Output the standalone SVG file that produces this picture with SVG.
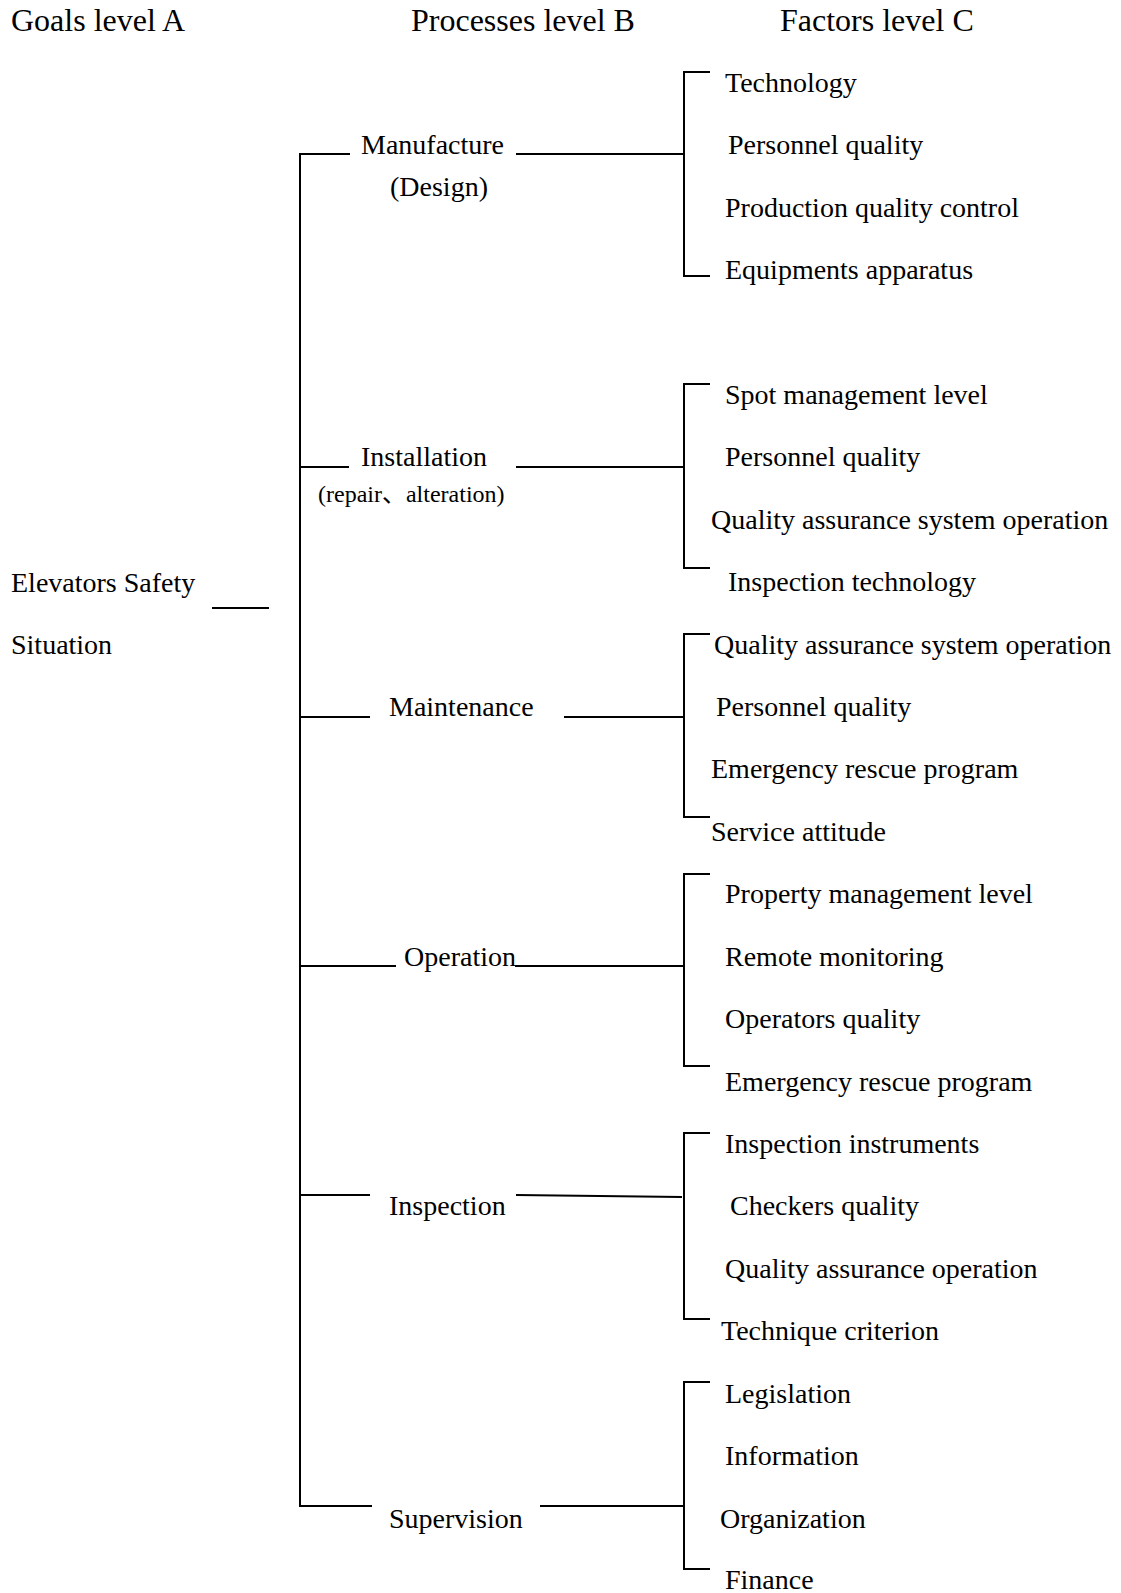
<svg xmlns="http://www.w3.org/2000/svg" width="1121" height="1593" viewBox="0 0 1121 1593">
  <style>
    text { font-family: "Liberation Serif", "Noto Sans CJK SC", serif; fill: #000; }
    .hdr { font-size: 32px; }
    .lbl { font-size: 28px; }
    .sub { font-size: 24px; }
    .ln { stroke: #000; stroke-width: 2; fill: none; }
  </style>
  <rect width="1121" height="1593" fill="#fff"/>

  <!-- column headers -->
  <g id="headers">
    <text class="hdr" x="11" y="31">Goals level A</text>
    <text class="hdr" x="411" y="31">Processes level B</text>
    <text class="hdr" x="780" y="31">Factors level C</text>
  </g>

  <!-- goal -->
  <g id="goal">
    <text class="lbl" x="11" y="592">Elevators Safety</text>
    <text class="lbl" x="11" y="654">Situation</text>
  </g>

  <!-- process nodes -->
  <g id="manufacture">
    <text class="lbl" x="361" y="154">Manufacture</text>
    <text class="lbl" x="390" y="196">(Design)</text>
  </g>
  <g id="installation">
    <text class="lbl" x="361" y="466">Installation</text>
    <text class="sub" x="318" y="502">(repair、alteration)</text>
  </g>
  <g id="maintenance">
    <text class="lbl" x="389" y="716">Maintenance</text>
  </g>
  <g id="operation">
    <text class="lbl" x="404" y="966">Operation</text>
  </g>
  <g id="inspection">
    <text class="lbl" x="389" y="1215">Inspection</text>
  </g>
  <g id="supervision">
    <text class="lbl" x="389" y="1528">Supervision</text>
  </g>

  <!-- factor nodes -->
  <g id="factors-manufacture">
    <text class="lbl" x="725" y="92">Technology</text>
    <text class="lbl" x="728" y="154">Personnel quality</text>
    <text class="lbl" x="725" y="217">Production quality control</text>
    <text class="lbl" x="725" y="279">Equipments apparatus</text>
  </g>
  <g id="factors-installation">
    <text class="lbl" x="725" y="404">Spot management level</text>
    <text class="lbl" x="725" y="466">Personnel quality</text>
    <text class="lbl" x="711" y="529">Quality assurance system operation</text>
    <text class="lbl" x="728" y="591">Inspection technology</text>
  </g>
  <g id="factors-maintenance">
    <text class="lbl" x="714" y="654">Quality assurance system operation</text>
    <text class="lbl" x="716" y="716">Personnel quality</text>
    <text class="lbl" x="711" y="778">Emergency rescue program</text>
    <text class="lbl" x="711" y="841">Service attitude</text>
  </g>
  <g id="factors-operation">
    <text class="lbl" x="725" y="903">Property management level</text>
    <text class="lbl" x="725" y="966">Remote monitoring</text>
    <text class="lbl" x="725" y="1028">Operators quality</text>
    <text class="lbl" x="725" y="1091">Emergency rescue program</text>
  </g>
  <g id="factors-inspection">
    <text class="lbl" x="725" y="1153">Inspection instruments</text>
    <text class="lbl" x="730" y="1215">Checkers quality</text>
    <text class="lbl" x="725" y="1278">Quality assurance operation</text>
    <text class="lbl" x="721" y="1340">Technique criterion</text>
  </g>
  <g id="factors-supervision">
    <text class="lbl" x="725" y="1403">Legislation</text>
    <text class="lbl" x="725" y="1465">Information</text>
    <text class="lbl" x="720" y="1528">Organization</text>
    <text class="lbl" x="725" y="1589">Finance</text>
  </g>

  <!-- connectors -->
  <g id="connectors" class="ln">
    <!-- goal to trunk -->
    <line class="ln" x1="212" y1="608" x2="269" y2="608"/>
    <!-- trunk -->
    <line class="ln" x1="300" y1="153" x2="300" y2="1507"/>
    <!-- trunk stubs to processes -->
    <line class="ln" x1="300" y1="154" x2="350" y2="154"/>
    <line class="ln" x1="300" y1="467" x2="349" y2="467"/>
    <line class="ln" x1="300" y1="717" x2="370" y2="717"/>
    <line class="ln" x1="300" y1="966" x2="396" y2="966"/>
    <line class="ln" x1="300" y1="1195" x2="370" y2="1195"/>
    <line class="ln" x1="300" y1="1506" x2="372" y2="1506"/>
    <!-- processes to factor brackets -->
    <line class="ln" x1="516" y1="154" x2="684" y2="154"/>
    <line class="ln" x1="516" y1="467" x2="684" y2="467"/>
    <line class="ln" x1="564" y1="717" x2="684" y2="717"/>
    <line class="ln" x1="515" y1="966" x2="684" y2="966"/>
    <line class="ln" x1="516" y1="1195" x2="682" y2="1197"/>
    <line class="ln" x1="540" y1="1506" x2="684" y2="1506"/>
    <!-- factor brackets -->
    <path class="ln" d="M710,72 H684 V276 H710"/>
    <path class="ln" d="M710,384 H684 V568 H710"/>
    <path class="ln" d="M710,634 H684 V817 H710"/>
    <path class="ln" d="M710,874 H684 V1066 H710"/>
    <path class="ln" d="M710,1133 H684 V1319 H710"/>
    <path class="ln" d="M710,1382 H684 V1569 H710"/>
  </g>
</svg>
